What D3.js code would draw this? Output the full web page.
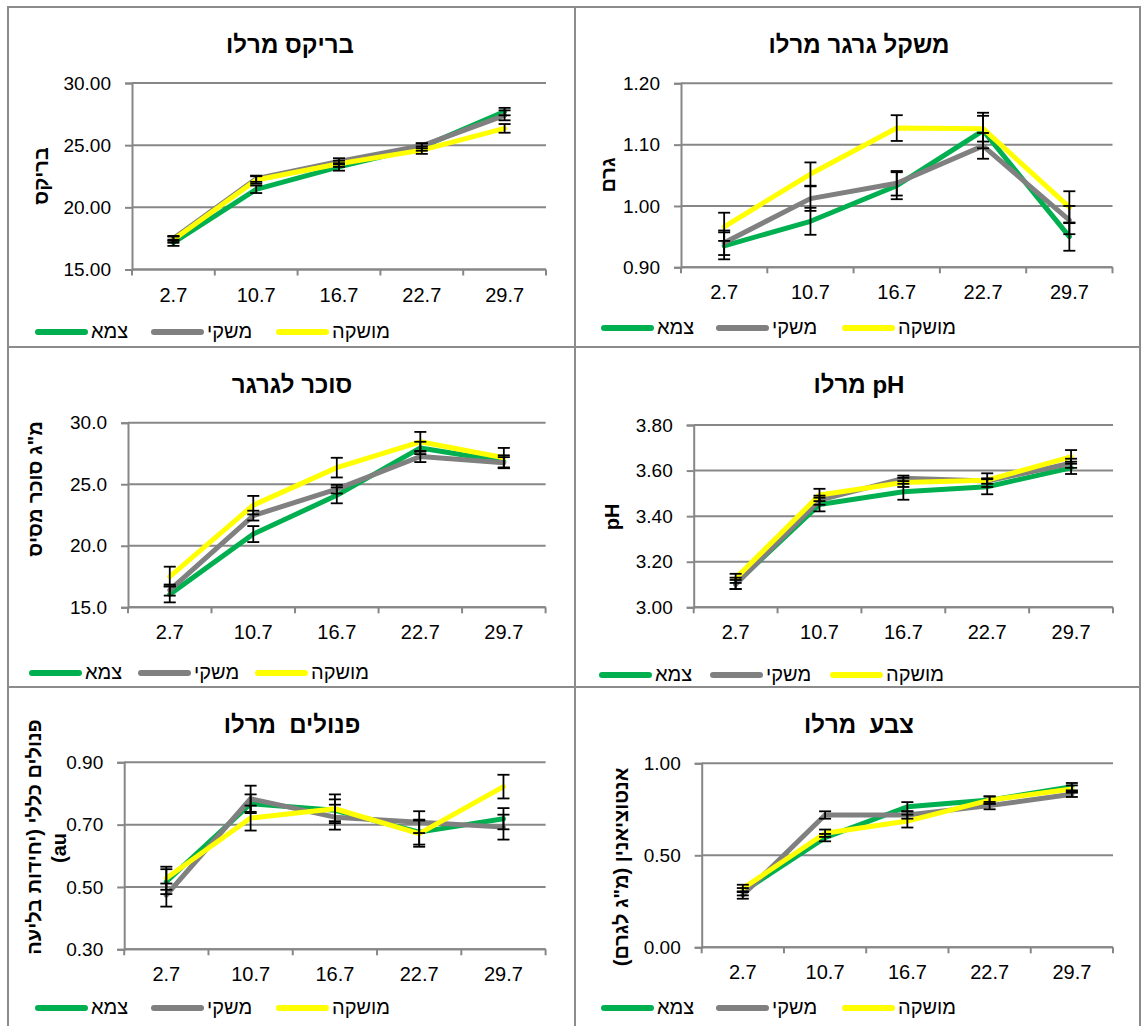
<!DOCTYPE html>
<html>
<head>
<meta charset="utf-8">
<script src="https://cdn.jsdelivr.net/npm/d3@7"></script>
<style>
  body { margin: 0; background: #fff; }
  svg text { font-family: "Liberation Sans", Arial, "DejaVu Sans", sans-serif; fill: #000; }
  .title { white-space: pre; }
</style>
</head>
<body>
<svg id="chart" width="1144" height="1026"></svg>
<script>
// Sampling dates (day.month)
const dates = ["2.7", "10.7", "16.7", "22.7", "29.7"];
const seriesNames = ["צמא", "משקי", "מושקה"];
const seriesColors = ["#00B050", "#808080", "#FFFF00"];

// Brix
const brixTzama  = [17.15, 21.45, 23.25, 24.85, 27.70];
const brixMeshki = [17.50, 22.30, 23.70, 24.95, 27.40];
const brixMushka = [17.40, 22.20, 23.50, 24.60, 26.35];
const brixErrTzama  = [0.25, 0.30, 0.30, 0.30, 0.30];
const brixErrMeshki = [0.20, 0.25, 0.25, 0.20, 0.40];
const brixErrMushka = [0.25, 0.30, 0.25, 0.30, 0.35];

// Berry weight (g)
const weightTzama  = [0.935, 0.975, 1.033, 1.123, 0.950];
const weightMeshki = [0.940, 1.012, 1.037, 1.098, 0.977];
const weightMushka = [0.966, 1.052, 1.127, 1.126, 0.998];
const weightErrTzama  = [0.022, 0.022, 0.022, 0.029, 0.023];
const weightErrMeshki = [0.020, 0.020, 0.020, 0.021, 0.023];
const weightErrMushka = [0.023, 0.019, 0.021, 0.021, 0.026];

// Sugar per berry (mg)
const sugarTzama  = [16.05, 20.95, 24.10, 27.95, 26.85];
const sugarMeshki = [16.40, 22.45, 24.60, 27.25, 26.75];
const sugarMushka = [17.50, 23.30, 26.35, 28.45, 27.15];
const sugarErrTzama  = [0.65, 0.65, 0.65, 0.50, 0.50];
const sugarErrMeshki = [0.45, 0.40, 0.35, 0.45, 0.45];
const sugarErrMushka = [0.80, 0.75, 0.80, 0.80, 0.80];

// pH
const phTzama  = [3.105, 3.451, 3.507, 3.529, 3.612];
const phMeshki = [3.100, 3.470, 3.566, 3.554, 3.632];
const phMushka = [3.127, 3.493, 3.548, 3.558, 3.660];
const phErrTzama  = [0.025, 0.030, 0.035, 0.033, 0.027];
const phErrMeshki = [0.020, 0.020, 0.012, 0.012, 0.020];
const phErrMushka = [0.020, 0.027, 0.020, 0.030, 0.030];

// Total phenols (au)
const phenolTzama  = [0.517, 0.767, 0.746, 0.676, 0.719];
const phenolMeshki = [0.474, 0.783, 0.724, 0.708, 0.692];
const phenolMushka = [0.528, 0.721, 0.751, 0.671, 0.822];
const phenolErrTzama  = [0.040, 0.030, 0.035, 0.040, 0.034];
const phenolErrMeshki = [0.037, 0.042, 0.040, 0.035, 0.040];
const phenolErrMushka = [0.037, 0.040, 0.046, 0.042, 0.038];

// Anthocyanins (mg/g)
const colorTzama  = [0.302, 0.596, 0.764, 0.800, 0.873];
const colorMeshki = [0.284, 0.719, 0.719, 0.770, 0.832];
const colorMushka = [0.320, 0.620, 0.686, 0.800, 0.860];
const colorErrTzama  = [0.020, 0.020, 0.025, 0.020, 0.020];
const colorErrMeshki = [0.020, 0.020, 0.020, 0.020, 0.015];
const colorErrMushka = [0.020, 0.020, 0.035, 0.020, 0.020];

// Axis tick values
const brixTicks   = [15, 20, 25, 30];
const weightTicks = [0.9, 1.0, 1.1, 1.2];
const sugarTicks  = [15, 20, 25, 30];
const phTicks     = [3.0, 3.2, 3.4, 3.6, 3.8];
const phenolTicks = [0.3, 0.5, 0.7, 0.9];
const colorTicks  = [0.0, 0.5, 1.0];

const panels = [
  {
    title: "בריקס מרלו", yLabel: ["בריקס"], ticks: brixTicks, fmt: ".2f",
    values: [brixTzama, brixMeshki, brixMushka],
    errors: [brixErrTzama, brixErrMeshki, brixErrMushka],
    box: { x0: 132, x1: 546, top: 83, bottom: 269.5 },
    titlePos: [290, 53], labelPos: [[48, 176]], legendY: 332, legendX: [35, 151, 276]
  },
  {
    title: "משקל גרגר מרלו", yLabel: ["גרם"], ticks: weightTicks, fmt: ".2f",
    values: [weightTzama, weightMeshki, weightMushka],
    errors: [weightErrTzama, weightErrMeshki, weightErrMushka],
    box: { x0: 681, x1: 1112.5, top: 83.3, bottom: 267.3 },
    titlePos: [859, 53], labelPos: [[615, 175]], legendY: 328, legendX: [601, 716, 842]
  },
  {
    title: "סוכר לגרגר", yLabel: ["מ\"ג סוכר מסיס"], ticks: sugarTicks, fmt: ".1f",
    values: [sugarTzama, sugarMeshki, sugarMushka],
    errors: [sugarErrTzama, sugarErrMeshki, sugarErrMushka],
    box: { x0: 128, x1: 545.6, top: 422.7, bottom: 607.3 },
    titlePos: [292, 393], labelPos: [[42, 489]], legendY: 673, legendX: [29, 138, 255]
  },
  {
    title: "pH מרלו", yLabel: ["pH"], ticks: phTicks, fmt: ".2f",
    values: [phTzama, phMeshki, phMushka],
    errors: [phErrTzama, phErrMeshki, phErrMushka],
    box: { x0: 693.7, x1: 1113, top: 425, bottom: 607.3 },
    titlePos: [859, 393], labelPos: [[619, 517]], legendY: 675, legendX: [599, 710, 830]
  },
  {
    title: "פנולים  מרלו", yLabel: ["פנולים כללי (יחידות בליעה", "au)"], ticks: phenolTicks, fmt: ".2f",
    values: [phenolTzama, phenolMeshki, phenolMushka],
    errors: [phenolErrTzama, phenolErrMeshki, phenolErrMushka],
    box: { x0: 124.2, x1: 545.6, top: 762.3, bottom: 949.3 },
    titlePos: [292, 733], labelPos: [[41, 837], [66, 848]], legendY: 1008, legendX: [35, 151, 276]
  },
  {
    title: "צבע  מרלו", yLabel: ["אנטוציאנין (מ\"ג לגרם)"], ticks: colorTicks, fmt: ".2f",
    values: [colorTzama, colorMeshki, colorMushka],
    errors: [colorErrTzama, colorErrMeshki, colorErrMushka],
    box: { x0: 701.7, x1: 1113, top: 763.3, bottom: 947.3 },
    titlePos: [859, 733], labelPos: [[628, 867]], legendY: 1008, legendX: [601, 716, 842]
  }
];

const svg = d3.select("#chart");
const gridColor = "#878787";

// Frame around the six charts
const frame = svg.append("g").attr("stroke", "#8c8c8c").attr("stroke-width", 2);
[[8, 7, 1140, 7], [8, 347, 1140, 347], [8, 687, 1140, 687],
 [8, 6, 8, 1026], [575, 6, 575, 1026], [1140, 6, 1140, 1026]]
  .forEach(([x1, y1, x2, y2]) => frame.append("line")
    .attr("x1", x1).attr("y1", y1).attr("x2", x2).attr("y2", y2));

panels.forEach(p => {
  const g = svg.append("g");
  const b = p.box;
  const x = d3.scaleBand().domain(dates).range([b.x0, b.x1]).padding(0);
  const y = d3.scaleLinear().domain([p.ticks[0], p.ticks[p.ticks.length - 1]]).range([b.bottom, b.top]);
  const cx = d => x(d) + x.bandwidth() / 2;

  // horizontal gridlines
  g.append("g").selectAll("line").data(p.ticks).join("line")
    .attr("x1", b.x0).attr("x2", b.x1)
    .attr("y1", d => y(d)).attr("y2", d => y(d))
    .attr("stroke", gridColor).attr("stroke-width", 2);

  // y axis
  const yAxis = g.append("g").attr("transform", `translate(${b.x0},0)`)
    .call(d3.axisLeft(y).tickValues(p.ticks).tickFormat(d3.format(p.fmt)).tickSize(7).tickPadding(14));
  yAxis.select(".domain").attr("stroke", gridColor).attr("stroke-width", 2);
  yAxis.selectAll(".tick line").attr("stroke", gridColor).attr("stroke-width", 2);
  yAxis.selectAll(".tick text").attr("font-size", 19).attr("font-family", "\"Liberation Sans\", Arial, sans-serif").attr("fill", "#000");

  // x axis: labels at band centres, ticks at band boundaries
  const xAxis = g.append("g").attr("transform", `translate(0,${b.bottom})`)
    .call(d3.axisBottom(x).tickSize(0).tickPadding(18));
  xAxis.select(".domain").remove();
  xAxis.selectAll(".tick text").attr("font-size", 20).attr("dy", "0.71em").attr("fill", "#000")
    .attr("font-family", "\"Liberation Sans\", Arial, sans-serif");
  g.append("line").attr("x1", b.x0).attr("x2", b.x1).attr("y1", b.bottom).attr("y2", b.bottom)
    .attr("stroke", gridColor).attr("stroke-width", 2);
  const bounds = dates.map(d => x(d)).concat([b.x1]);
  g.append("g").selectAll("line").data(bounds).join("line")
    .attr("x1", d => d).attr("x2", d => d)
    .attr("y1", b.bottom).attr("y2", b.bottom + 6)
    .attr("stroke", gridColor).attr("stroke-width", 2);

  // series lines
  const line = d3.line().x((v, i) => cx(dates[i])).y(v => y(v));
  p.values.forEach((vals, s) => {
    g.append("path").datum(vals).attr("d", line)
      .attr("fill", "none").attr("stroke", seriesColors[s]).attr("stroke-width", 5)
      .attr("stroke-linejoin", "round").attr("stroke-linecap", "round");
  });

  // error bars
  const eb = g.append("g").attr("stroke", "#000").attr("stroke-width", 1.8);
  p.values.forEach((vals, s) => {
    vals.forEach((v, i) => {
      const e = p.errors[s][i];
      const xc = cx(dates[i]);
      eb.append("line").attr("x1", xc).attr("x2", xc).attr("y1", y(v + e)).attr("y2", y(v - e));
      [v + e, v - e].forEach(t => eb.append("line")
        .attr("x1", xc - 6).attr("x2", xc + 6).attr("y1", y(t)).attr("y2", y(t)));
    });
  });

  // title
  g.append("text").attr("class", "title").attr("x", p.titlePos[0]).attr("y", p.titlePos[1])
    .attr("text-anchor", "middle").attr("direction", "rtl")
    .attr("font-size", 24).attr("font-weight", "bold").text(p.title);

  // y axis title
  p.yLabel.forEach((t, k) => {
    const [lx, ly] = p.labelPos[k];
    g.append("text").attr("transform", `translate(${lx},${ly}) rotate(-90)`)
      .attr("text-anchor", "middle").attr("direction", "rtl")
      .attr("font-size", 20).attr("font-weight", "bold").text(t);
  });

  // legend
  seriesNames.forEach((name, s) => {
    const lx = p.legendX[s];
    g.append("line").attr("x1", lx + 3).attr("x2", lx + 50)
      .attr("y1", p.legendY).attr("y2", p.legendY)
      .attr("stroke", seriesColors[s]).attr("stroke-width", 6).attr("stroke-linecap", "round");
    g.append("text").attr("x", lx + 56).attr("y", p.legendY + 6)
      .attr("font-size", 20).text(name);
  });
});
</script>
</body>
</html>
